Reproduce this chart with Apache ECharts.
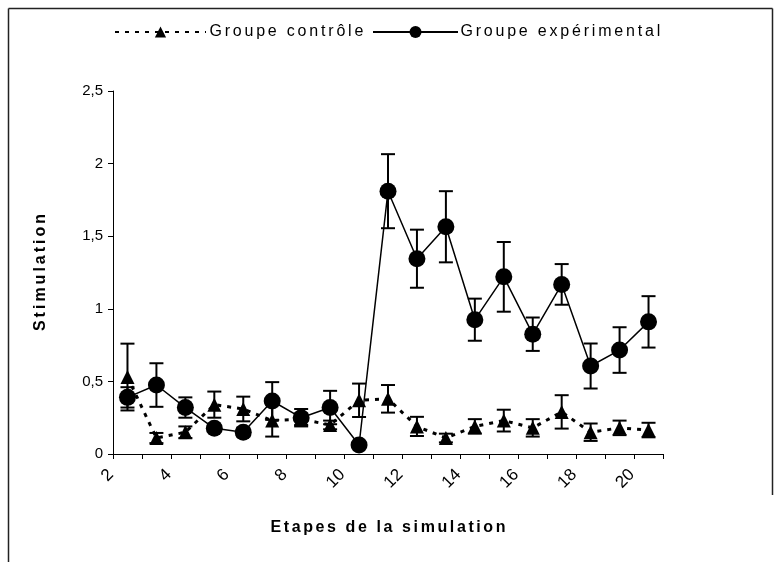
<!DOCTYPE html>
<html>
<head>
<meta charset="utf-8">
<script src="https://cdn.jsdelivr.net/npm/echarts@6/dist/echarts.min.js"></script>
<style>html,body{margin:0;padding:0;background:#fff;}#c{width:780px;height:562px;}</style>
</head>
<body>
<div id="c"></div>
<script>
// Steps (categories) of the simulation
var steps = ['2','3','4','5','6','7','8','9','10','11','12','13','14','15','16','17','18','19','20'];
// Control group: means and error half-widths
var ctrlMean = [0.53, 0.11, 0.15, 0.34, 0.31, 0.23, 0.24, 0.20, 0.37, 0.38, 0.19, 0.11, 0.19, 0.23, 0.18, 0.29, 0.15, 0.18, 0.165];
var ctrlErr  = [0.23, 0.035, 0.04, 0.09, 0.085, 0.11, 0.04, 0.03, 0.115, 0.095, 0.066, 0.03, 0.05, 0.075, 0.06, 0.115, 0.06, 0.05, 0.05];
// Experimental group: means and error half-widths
var expMean = [0.39, 0.475, 0.32, 0.177, 0.15, 0.365, 0.25, 0.32, 0.062, 1.81, 1.345, 1.565, 0.925, 1.22, 0.825, 1.168, 0.606, 0.716, 0.91];
var expErr  = [0.07, 0.15, 0.07, 0.02, 0.03, 0.13, 0.06, 0.115, 0.01, 0.255, 0.2, 0.245, 0.145, 0.24, 0.115, 0.14, 0.155, 0.157, 0.177];
// Tick labels shown at the category boundaries
var tickLabels = ['2','4','6','8','10','12','14','16','18','20'];

var boundaries = [];
for (var i = 0; i <= steps.length; i++) {
  boundaries.push(i % 2 === 0 && tickLabels[i / 2] !== undefined ? tickLabels[i / 2] : '');
}

function errData(mean, err) {
  return mean.map(function (m, i) { return [i, m - err[i], m + err[i]]; });
}

function renderErr(params, api) {
  var x = api.value(0);
  var lo = api.coord([x, api.value(1)]);
  var hi = api.coord([x, api.value(2)]);
  var hw = 7;
  var st = { stroke: '#000', lineWidth: 2 };
  return {
    type: 'group',
    children: [
      { type: 'line', shape: { x1: lo[0], y1: lo[1], x2: hi[0], y2: hi[1] }, style: st },
      { type: 'line', shape: { x1: lo[0] - hw, y1: lo[1], x2: lo[0] + hw, y2: lo[1] }, style: st },
      { type: 'line', shape: { x1: hi[0] - hw, y1: hi[1], x2: hi[0] + hw, y2: hi[1] }, style: st }
    ]
  };
}

// letter-spaced text through rich tokens
function spaced(str, key) {
  return str.split('').map(function (c) { return '{' + key + '|' + c + '}'; }).join('');
}

var font = 'Liberation Sans, Arial, sans-serif';
var legendRich = { s: { fontFamily: font, fontSize: 16, color: '#000', padding: [0, 1.4, 0, 1.4] } };

var chart = echarts.init(document.getElementById('c'), null, { renderer: 'canvas' });
chart.setOption({
  animation: false,
  backgroundColor: '#fff',
  grid: { left: 113, right: 117, top: 91, bottom: 108 },
  legend: [
    {
      data: ['Groupe contrôle'], left: 114, top: 24, padding: 0, itemWidth: 91, itemHeight: 14, itemGap: 0,
      formatter: function (n) { return spaced(n, 's'); },
      textStyle: { fontFamily: font, fontSize: 16, color: '#000', padding: [0, 0, 0, -3], rich: legendRich }
    },
    {
      data: ['Groupe expérimental'], left: 372, top: 24, padding: 0, itemWidth: 85, itemHeight: 15, itemGap: 0,
      formatter: function (n) { return spaced(n, 's'); },
      textStyle: { fontFamily: font, fontSize: 16, color: '#000', padding: [0, 0, 0, -4], rich: legendRich }
    }
  ],
  xAxis: [
    {
      type: 'category', data: steps, boundaryGap: true, position: 'bottom',
      axisLine: { lineStyle: { color: '#000', width: 1 } },
      axisTick: { show: true, interval: 0, length: 5, lineStyle: { color: '#000' } },
      axisLabel: { show: false },
      splitLine: { show: false },
      name: spaced('Etapes de la simulation', 't'), nameLocation: 'middle', nameGap: 66,
      nameTextStyle: {
        fontFamily: font, fontSize: 16, fontWeight: 'bold', color: '#000',
        rich: { t: { fontFamily: font, fontSize: 16, fontWeight: 'bold', color: '#000', padding: [0, 1.3, 0, 1.3] } }
      }
    },
    {
      type: 'category', data: boundaries, boundaryGap: false, position: 'bottom',
      axisLine: { show: false }, axisTick: { show: false }, splitLine: { show: false },
      axisLabel: {
        interval: 0, rotate: 45, margin: 16, fontFamily: font, fontSize: 17, color: '#000',
        formatter: function (v) { return v ? '{l|' + v + '}' : ''; },
        rich: { l: { fontFamily: font, fontSize: 17, color: '#000', padding: [0, 3, 0, 0] } }
      }
    }
  ],
  yAxis: {
    type: 'value', min: 0, max: 2.5, interval: 0.5,
    axisLine: { show: true, lineStyle: { color: '#000', width: 1 } },
    axisTick: { show: true, length: 5, lineStyle: { color: '#000' } },
    splitLine: { show: false },
    axisLabel: {
      margin: 10, fontFamily: font, fontSize: 15, color: '#000',
      formatter: function (v) { return String(v).replace('.', ','); }
    },
    name: spaced('Stimulation', 't'), nameLocation: 'middle', nameGap: 64, nameRotate: 90,
    nameTextStyle: {
      fontFamily: font, fontSize: 16, fontWeight: 'bold', color: '#000',
      rich: { t: { fontFamily: font, fontSize: 16, fontWeight: 'bold', color: '#000', padding: [0, 1.5, 0, 1.5] } }
    }
  },
  series: [
    {
      type: 'custom', xAxisIndex: 0, renderItem: renderErr, data: errData(ctrlMean, ctrlErr),
      encode: { x: 0, y: [1, 2] }, z: 1, silent: true
    },
    {
      type: 'custom', xAxisIndex: 0, renderItem: renderErr, data: errData(expMean, expErr),
      encode: { x: 0, y: [1, 2] }, z: 1, silent: true
    },
    {
      name: 'Groupe contrôle', type: 'line', xAxisIndex: 0, data: ctrlMean,
      symbol: 'triangle', symbolSize: 14, showAllSymbol: true,
      itemStyle: { color: '#000' },
      lineStyle: { color: '#000', width: 3, type: [4, 6] }, z: 3
    },
    {
      name: 'Groupe expérimental', type: 'line', xAxisIndex: 0, data: expMean,
      symbol: 'circle', symbolSize: 17, showAllSymbol: true,
      itemStyle: { color: '#000' },
      lineStyle: { color: '#000', width: 1.5, type: 'solid' }, z: 4
    }
  ],
  graphic: [
    { type: 'line', shape: { x1: 8.5, y1: 8.5, x2: 772.5, y2: 8.5 }, style: { stroke: '#222', lineWidth: 1.5 } },
    { type: 'line', shape: { x1: 8.5, y1: 8.5, x2: 8.5, y2: 562 }, style: { stroke: '#222', lineWidth: 1.5 } },
    { type: 'line', shape: { x1: 772.5, y1: 8.5, x2: 772.5, y2: 495 }, style: { stroke: '#222', lineWidth: 1.5 } }
  ]
});
</script>
</body>
</html>
